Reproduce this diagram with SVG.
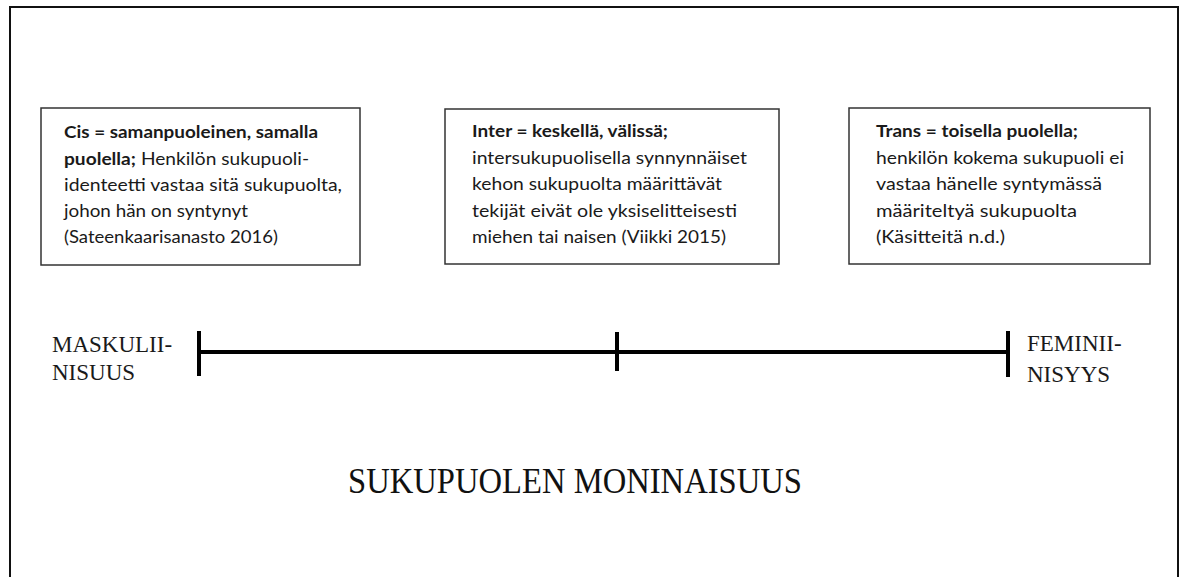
<svg xmlns="http://www.w3.org/2000/svg" width="1184" height="577" viewBox="0 0 1184 577">
<style>
.frame{fill:none;stroke:#111;stroke-width:2}
.box{fill:#fff;stroke:#333;stroke-width:1.5}
.t{font-family:Lato,"Open Sans","Liberation Sans",sans-serif;font-size:17.5px;fill:#1a1a1a}
.b{font-weight:bold}
.axis{stroke:#000;stroke-width:4;fill:none}
.lab{font-family:"Liberation Serif","Times New Roman",serif;font-size:23px;fill:#1a1a1a}
.title{font-family:"Liberation Serif","Times New Roman",serif;font-size:35px;fill:#111}
</style>
<rect width="1184" height="577" fill="#fff"/>
<path class="frame" d="M10,577 V7 H1178 V577"/>
<g id="node-cis">
<rect class="box" x="41" y="108" width="319" height="157"/>
<text class="t" x="64" y="138" textLength="254" lengthAdjust="spacingAndGlyphs"><tspan class="b">Cis = samanpuoleinen, samalla</tspan></text>
<text class="t" x="64" y="165" textLength="245" lengthAdjust="spacingAndGlyphs"><tspan class="b">puolella;</tspan> Henkilön sukupuoli-</text>
<text class="t" x="64" y="191" textLength="278" lengthAdjust="spacingAndGlyphs">identeetti vastaa sitä sukupuolta,</text>
<text class="t" x="64" y="217" textLength="184" lengthAdjust="spacingAndGlyphs">johon hän on syntynyt</text>
<text class="t" x="64" y="243" textLength="214" lengthAdjust="spacingAndGlyphs">(Sateenkaarisanasto 2016)</text>
</g>
<g id="node-inter">
<rect class="box" x="445" y="109" width="334" height="155"/>
<text class="t" x="472" y="137" textLength="196" lengthAdjust="spacingAndGlyphs"><tspan class="b">Inter = keskellä, välissä;</tspan></text>
<text class="t" x="472" y="164" textLength="275" lengthAdjust="spacingAndGlyphs">intersukupuolisella synnynnäiset</text>
<text class="t" x="472" y="190" textLength="250" lengthAdjust="spacingAndGlyphs">kehon sukupuolta määrittävät</text>
<text class="t" x="472" y="217" textLength="265" lengthAdjust="spacingAndGlyphs">tekijät eivät ole yksiselitteisesti</text>
<text class="t" x="472" y="243" textLength="254" lengthAdjust="spacingAndGlyphs">miehen tai naisen (Viikki 2015)</text>
</g>
<g id="node-trans">
<rect class="box" x="849" y="108" width="301" height="156"/>
<text class="t" x="876" y="137" textLength="202" lengthAdjust="spacingAndGlyphs"><tspan class="b">Trans = toisella puolella;</tspan></text>
<text class="t" x="876" y="164" textLength="248" lengthAdjust="spacingAndGlyphs">henkilön kokema sukupuoli ei</text>
<text class="t" x="876" y="190" textLength="226" lengthAdjust="spacingAndGlyphs">vastaa hänelle syntymässä</text>
<text class="t" x="876" y="217" textLength="201" lengthAdjust="spacingAndGlyphs">määriteltyä sukupuolta</text>
<text class="t" x="876" y="243" textLength="129" lengthAdjust="spacingAndGlyphs">(Käsitteitä n.d.)</text>
</g>
<g id="connectors">
<line class="axis" x1="199" y1="352" x2="1008" y2="352"/>
<line class="axis" x1="199" y1="331" x2="199" y2="376"/>
<line class="axis" x1="617" y1="332" x2="617" y2="371"/>
<line class="axis" x1="1008" y1="331" x2="1008" y2="377"/>
</g>
<g id="label-masc">
<text class="lab" x="52" y="352">MASKULII-</text>
<text class="lab" x="52" y="380">NISUUS</text>
</g>
<g id="label-fem">
<text class="lab" x="1027" y="351">FEMINII-</text>
<text class="lab" x="1027" y="382">NISYYS</text>
</g>
<g id="title">
<text class="title" x="348" y="493" textLength="454" lengthAdjust="spacingAndGlyphs">SUKUPUOLEN MONINAISUUS</text>
</g>
</svg>
